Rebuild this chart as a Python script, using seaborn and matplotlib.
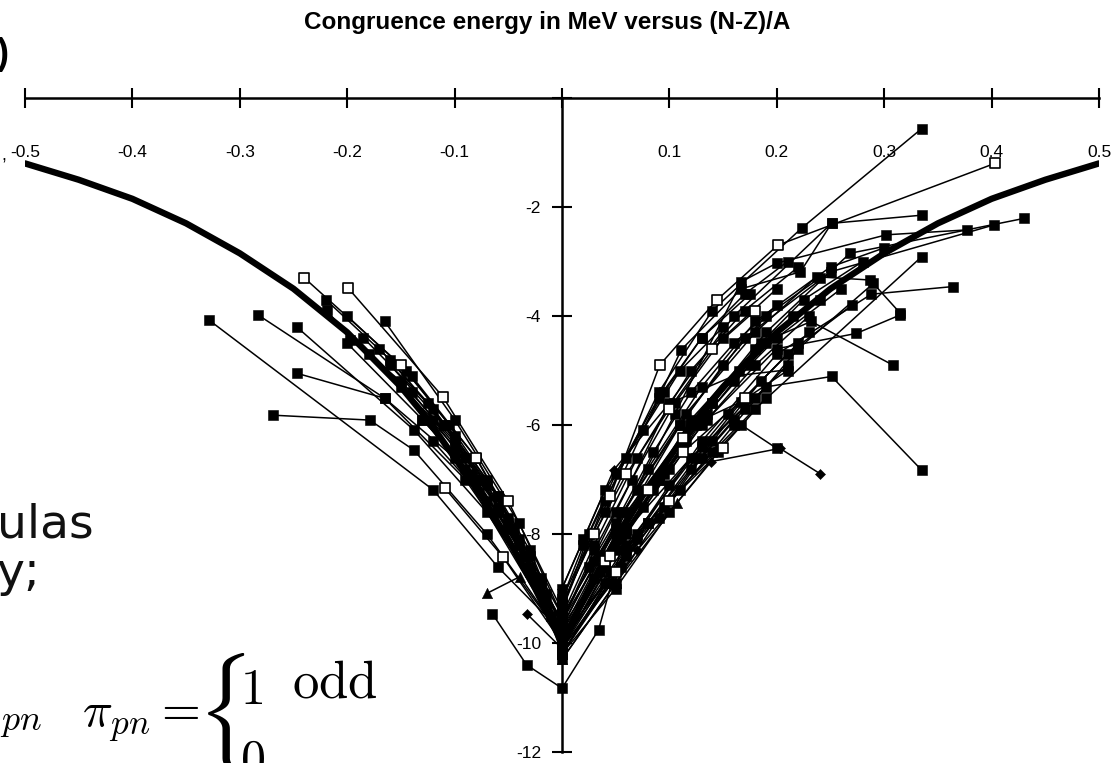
import matplotlib
matplotlib.use("Agg")
import matplotlib.pyplot as plt
import numpy as np
import pandas as pd
import seaborn as sns

# ---------------- data ----------------
curve_x = [-0.5, -0.45, -0.4, -0.35, -0.3, -0.25, -0.2, -0.15, -0.125, -0.1, -0.075, -0.05, -0.025, 0.0,
           0.025, 0.05, 0.075, 0.1, 0.125, 0.15, 0.2, 0.25, 0.3, 0.35, 0.4, 0.45, 0.5]
curve_y = [-1.2, -1.5, -1.85, -2.3, -2.85, -3.5, -4.3, -5.3, -5.9, -6.6, -7.3, -8.1, -9.0, -10.0,
           -9.0, -8.1, -7.3, -6.6, -5.9, -5.3, -4.3, -3.5, -2.85, -2.3, -1.85, -1.5, -1.2]

# isotopic chains with filled squares
square_chains = [
    ([0.0, 0.04, 0.09, 0.14, 0.223, 0.335], [-9.4, -7.4, -5.4, -3.9, -2.39, -0.56]),
    ([0.0, 0.05, 0.1, 0.16, 0.251, 0.335], [-9.6, -7.6, -5.6, -4.0, -2.3, -2.15]),
    ([0.0, 0.05, 0.105, 0.167, 0.2, 0.302, 0.377], [-9.8, -7.9, -5.8, -3.37, -3.03, -2.51, -2.42]),
    ([0.0, 0.05, 0.11, 0.17, 0.25, 0.402], [-9.9, -8.0, -6.0, -4.4, -3.19, -2.33]),
    ([0.0, 0.055, 0.12, 0.19, 0.268, 0.43], [-10.0, -8.1, -6.0, -4.3, -2.85, -2.21]),
    ([0.0, 0.05, 0.115, 0.18, 0.237, 0.287, 0.315], [-9.7, -7.8, -5.8, -4.3, -3.28, -3.34, -3.95]),
    ([0.0, 0.06, 0.13, 0.2, 0.274, 0.315], [-10.1, -8.0, -6.0, -4.6, -4.32, -3.98]),
    ([0.0, 0.06, 0.13, 0.2, 0.288, 0.364], [-10.2, -8.3, -6.3, -4.7, -3.6, -3.46]),
    ([0.0, 0.055, 0.12, 0.185, 0.232, 0.308], [-9.9, -8.0, -5.9, -4.5, -4.1, -4.9]),
    ([0.0, 0.06, 0.13, 0.19, 0.251, 0.335], [-10.0, -8.2, -6.4, -5.3, -5.11, -6.83]),
    ([0.0, 0.07, 0.167, 0.2], [-10.2, -8.0, -6.0, -6.43]),
    ([0.0, 0.07, 0.14, 0.18, 0.335], [-10.0, -8.1, -6.5, -5.7, -2.91]),
    ([-0.065, -0.033, 0.0, 0.034, 0.06, 0.12, 0.18], [-9.46, -10.4, -10.83, -9.76, -7.93, -6.6, -5.5]),
    ([0.0, 0.04, 0.111, 0.167, 0.222, 0.251], [-9.3, -7.6, -4.62, -3.5, -3.19, -2.3]),
    ([0.0, 0.06, 0.12, 0.167, 0.21], [-9.6, -7.6, -6.0, -5.57, -5.0]),
    ([0.0, 0.03, 0.07, 0.12, 0.17, 0.22], [-9.5, -8.2, -6.6, -5.0, -3.9, -3.1]),
    ([0.0, 0.035, 0.08, 0.13, 0.18, 0.25, 0.3], [-9.7, -8.4, -6.8, -5.3, -4.1, -3.1, -2.75]),
    ([0.0, 0.04, 0.09, 0.14, 0.19, 0.24], [-10.0, -8.6, -7.0, -5.6, -4.5, -3.7]),
    ([0.0, 0.045, 0.1, 0.155, 0.21, 0.27], [-10.1, -8.7, -7.1, -5.8, -4.7, -3.8]),
    ([0.0, 0.05, 0.09, 0.13, 0.17, 0.21], [-10.3, -8.9, -7.7, -6.6, -5.7, -4.9]),
    ([0.0, 0.06, 0.11, 0.16, 0.22, 0.29], [-9.9, -8.4, -7.2, -6.0, -4.6, -3.4]),
    ([0.0, 0.03, 0.065, 0.105, 0.15, 0.2], [-9.6, -8.3, -7.0, -5.6, -4.4, -3.5]),
    ([0.0, 0.04, 0.085, 0.125, 0.165, 0.215], [-9.8, -8.5, -7.2, -6.0, -5.0, -4.0]),
    ([0.0, 0.055, 0.095, 0.14, 0.185, 0.23], [-10.1, -8.6, -7.5, -6.3, -5.2, -4.3]),
    ([0.0, 0.025, 0.06, 0.095, 0.13, 0.175], [-9.4, -8.0, -6.6, -5.4, -4.4, -3.6]),
    ([0.0, 0.045, 0.08, 0.12, 0.16], [-10.2, -8.9, -7.8, -6.8, -5.9]),
    ([0.0, 0.02, 0.05, 0.09, 0.13, 0.17, 0.21], [-9.2, -8.2, -6.9, -5.5, -4.4, -3.6, -3.0]),
    ([0.0, 0.03, 0.07, 0.11, 0.15, 0.19, 0.24], [-9.5, -8.5, -7.2, -6.0, -4.9, -4.0, -3.3]),
    ([0.0, 0.035, 0.075, 0.115, 0.16, 0.2, 0.26], [-9.7, -8.7, -7.5, -6.3, -5.2, -4.4, -3.5]),
    ([0.0, 0.04, 0.08, 0.125, 0.17, 0.22], [-9.9, -8.9, -7.8, -6.6, -5.5, -4.5]),
    ([0.0, 0.05, 0.1, 0.145, 0.19], [-10.2, -9.0, -7.6, -6.5, -5.5]),
    ([0.0, 0.025, 0.055, 0.085, 0.12, 0.16, 0.2], [-9.6, -8.6, -7.6, -6.5, -5.4, -4.5, -3.8]),
    ([0.0, 0.03, 0.06, 0.1, 0.135, 0.175], [-9.9, -8.8, -7.9, -6.8, -5.8, -4.9]),
    ([0.0, 0.02, 0.04, 0.075, 0.11, 0.15], [-9.0, -8.1, -7.2, -6.1, -5.0, -4.2]),
    ([0.0, 0.04, 0.09, 0.135, 0.18, 0.23], [-10.0, -8.5, -7.0, -5.9, -4.9, -4.0]),
    ([0.0, 0.05, 0.095, 0.14, 0.18, 0.225, 0.28], [-10.1, -8.3, -6.9, -5.6, -4.6, -3.7, -3.0]),
    ([-0.329, -0.12, -0.06, 0.0], [-4.07, -7.19, -8.6, -9.8]),
    ([-0.283, -0.165, -0.09, 0.0], [-3.98, -5.51, -7.0, -9.6]),
    ([-0.247, -0.138, -0.07, 0.0], [-4.2, -6.09, -7.6, -9.7]),
    ([-0.247, -0.165, -0.1, 0.0], [-5.05, -5.51, -6.6, -9.9]),
    ([-0.269, -0.179, -0.138, -0.07, 0.0], [-5.82, -5.91, -6.46, -8.0, -9.9]),
    ([-0.165, -0.1, -0.04, 0.0], [-4.1, -5.9, -7.8, -9.5]),
    ([-0.219, -0.197, -0.15, -0.1, -0.05, 0.0], [-3.89, -4.44, -5.2, -6.3, -7.8, -9.8]),
    ([-0.18, -0.12, -0.06, 0.0], [-4.7, -5.9, -7.5, -9.6]),
    ([-0.15, -0.1, -0.05, 0.0], [-5.3, -6.4, -7.9, -9.9]),
    ([-0.13, -0.08, -0.03, 0.0], [-5.9, -7.0, -8.6, -10.1]),
    ([-0.12, -0.07, -0.03, 0.0], [-6.3, -7.4, -8.7, -9.8]),
    ([-0.2, -0.14, -0.08, -0.03, 0.0], [-4.0, -5.1, -6.6, -8.3, -9.7]),
    ([-0.16, -0.11, -0.06, -0.02, 0.0], [-4.9, -6.0, -7.3, -8.8, -9.9]),
    ([-0.14, -0.09, -0.045, 0.0], [-5.4, -6.6, -7.9, -10.0]),
    ([-0.1, -0.06, -0.025, 0.0], [-6.5, -7.6, -8.8, -10.2]),
    ([-0.185, -0.125, -0.07, -0.02, 0.0], [-4.4, -5.6, -7.1, -8.9, -9.6]),
    ([-0.22, -0.16, -0.1, -0.05, 0.0], [-3.7, -4.8, -6.2, -7.7, -9.7]),
    ([-0.17, -0.12, -0.07, -0.03, 0.0], [-4.6, -5.7, -7.0, -8.4, -9.9]),
    ([-0.11, -0.075, -0.04, -0.015, 0.0], [-6.0, -7.0, -8.1, -9.1, -10.0]),
    ([-0.09, -0.06, -0.035, -0.01, 0.0], [-6.8, -7.6, -8.4, -9.5, -10.2]),
    ([-0.2, -0.13, -0.085, -0.04, 0.0], [-4.5, -5.9, -6.9, -8.2, -9.8]),
    ([-0.145, -0.105, -0.06, -0.02, 0.0], [-5.0, -6.0, -7.3, -8.9, -10.0]),
]

# chains with open squares
open_chains = [
    ([0.0, 0.045, 0.091, 0.144, 0.201, 0.403], [-9.2, -7.3, -4.9, -3.71, -2.7, -1.2]),
    ([0.0, 0.04, 0.08, 0.113], [-9.9, -8.5, -7.2, -6.24]),
    ([0.0, 0.05, 0.1, 0.15], [-10.2, -8.7, -7.4, -6.43]),
    ([0.0, 0.045, 0.113, 0.17], [-10.0, -8.4, -6.49, -5.5]),
    ([0.0, 0.03, 0.06, 0.1, 0.14, 0.18], [-9.3, -8.0, -6.9, -5.7, -4.6, -3.9]),
    ([-0.199, -0.111, -0.05, 0.0], [-3.49, -5.48, -7.4, -9.4]),
    ([-0.109, -0.055, 0.0], [-7.16, -8.42, -10.0]),
    ([-0.24, -0.15, -0.08, 0.0], [-3.3, -4.9, -6.6, -9.5]),
]

# chains with small diamonds
diamond_chains = [
    ([0.0, 0.07, 0.139, 0.203, 0.24], [-10.1, -8.3, -6.67, -6.43, -6.89]),
    ([0.0, 0.048, 0.1, 0.16, 0.209], [-9.0, -6.83, -5.6, -5.1, -4.99]),
    ([-0.033, 0.0], [-9.46, -10.1]),
]

# chains with triangles
triangle_chains = [
    ([0.0, 0.05, 0.107], [-10.3, -8.9, -7.44]),
    ([-0.07, -0.039, 0.0], [-9.09, -8.78, -9.9]),
]

x_ticks = [-0.5, -0.4, -0.3, -0.2, -0.1, 0.0, 0.1, 0.2, 0.3, 0.4, 0.5]
x_tick_labels = ["-0.5", "-0.4", "-0.3", "-0.2", "-0.1", "", "0.1", "0.2", "0.3", "0.4", "0.5"]
y_ticks = [-12, -10, -8, -6, -4, -2, 0]
y_tick_labels = ["-12", "-10", "-8", "-6", "-4", "-2", ""]

title = "Congruence energy in MeV versus (N-Z)/A"

# ---------------- build long-form table ----------------
rows = []
cid = 0
for kind, chains in [("sq", square_chains), ("open", open_chains),
                     ("dia", diamond_chains), ("tri", triangle_chains)]:
    for xs, ys in chains:
        cid += 1
        for xv, yv in zip(xs, ys):
            rows.append({"x": xv, "y": yv, "chain": cid, "kind": kind})
df = pd.DataFrame(rows)
curve_df = pd.DataFrame({"x": curve_x, "y": curve_y})

# ---------------- figure ----------------
sns.set_theme(style="white")
plt.rcParams["font.family"] = ["Liberation Sans", "DejaVu Sans"]
plt.rcParams["axes.unicode_minus"] = False
plt.rcParams["mathtext.fontset"] = "cm"
plt.rcParams["text.color"] = "black"

W, H = 1119, 763
fig = plt.figure(figsize=(W / 100, H / 100), dpi=100)
fig.patch.set_facecolor("white")
ax = fig.add_axes([25 / W, 1 - 752 / H, 1074 / W, 654 / H])
ax.set_facecolor("white")
ax.set_axisbelow(True)

sns.lineplot(data=df, x="x", y="y", units="chain", estimator=None, sort=False,
             color="black", linewidth=1.1, ax=ax, zorder=2, legend=False)
sns.lineplot(data=curve_df, x="x", y="y", sort=False, estimator=None,
             color="black", linewidth=4.6, ax=ax, zorder=3, legend=False)

sq = df[df.kind == "sq"]
op = df[(df.kind == "open") & (df.x != 0)]
op0 = df[(df.kind == "open") & (df.x == 0)]
sns.scatterplot(data=pd.concat([sq, op0]), x="x", y="y", marker="s", s=62,
                color="black", edgecolor="black", linewidth=0.4, ax=ax, zorder=4, legend=False)
sns.scatterplot(data=op, x="x", y="y", marker="s", s=62,
                color="white", edgecolor="black", linewidth=1.2, ax=ax, zorder=5, legend=False)
sns.scatterplot(data=df[df.kind == "dia"], x="x", y="y", marker="D", s=26,
                color="black", edgecolor="black", linewidth=0.4, ax=ax, zorder=4, legend=False)
sns.scatterplot(data=df[df.kind == "tri"], x="x", y="y", marker="^", s=55,
                color="black", edgecolor="black", linewidth=0.4, ax=ax, zorder=4, legend=False)

ax.set_xlim(-0.5, 0.5)
ax.set_ylim(-12, 0)
ax.set_xlabel("")
ax.set_ylabel("")
for s in ["bottom", "right"]:
    ax.spines[s].set_visible(False)
ax.spines["left"].set_position(("data", 0))
ax.spines["top"].set_linewidth(1.8)
ax.spines["left"].set_linewidth(1.8)
ax.spines["top"].set_color("black")
ax.spines["left"].set_color("black")

ax.xaxis.set_ticks_position("top")
ax.set_xticks(x_ticks)
ax.set_xticklabels(x_tick_labels)
ax.tick_params(axis="x", which="major", direction="inout", length=14.4, width=1.5,
               color="black", top=True, bottom=False, labeltop=True, labelbottom=False,
               pad=-52, labelsize=12.5, labelcolor="black")

ax.yaxis.set_ticks_position("left")
ax.set_yticks(y_ticks)
ax.set_yticklabels(y_tick_labels)
ax.tick_params(axis="y", which="major", direction="inout", length=14.4, width=1.5,
               color="black", pad=8, labelsize=12.5, labelcolor="black")
ax.grid(False)

def fx(px):
    return px / W

def fy(py):
    return 1 - py / H

fig.text(fx(547), fy(22), title, ha="center", va="center", fontsize=17.5,
         fontweight="bold", color="black")

# fragments of surrounding slide text
fig.text(fx(9), fy(55), ")", ha="right", va="center", fontsize=26, fontweight="bold")
fig.text(fx(1), fy(156), ",", ha="left", va="center", fontsize=13)
fig.text(fx(-3), fy(538), "ulas", ha="left", va="baseline", fontsize=34,
         family="DejaVu Sans", color="#111111")
fig.text(fx(-3), fy(586), "y;", ha="left", va="baseline", fontsize=34,
         family="DejaVu Sans", color="#111111")
fig.text(fx(0), fy(730), r"$pn$", ha="left", va="baseline", fontsize=26)
fig.text(fx(82), fy(726), r"$\pi_{pn}=$", ha="left", va="baseline", fontsize=36)
fig.text(fx(196), fy(714), r"$\{$", ha="left", va="center", fontsize=72)
fig.text(fx(240), fy(704), r"$1$", ha="left", va="baseline", fontsize=36)
fig.text(fx(292), fy(698), r"$\mathrm{odd}$", ha="left", va="baseline", fontsize=38)
fig.text(fx(240), fy(775), r"$0$", ha="left", va="baseline", fontsize=36)

fig.savefig("out.png", dpi=100, facecolor="white")
